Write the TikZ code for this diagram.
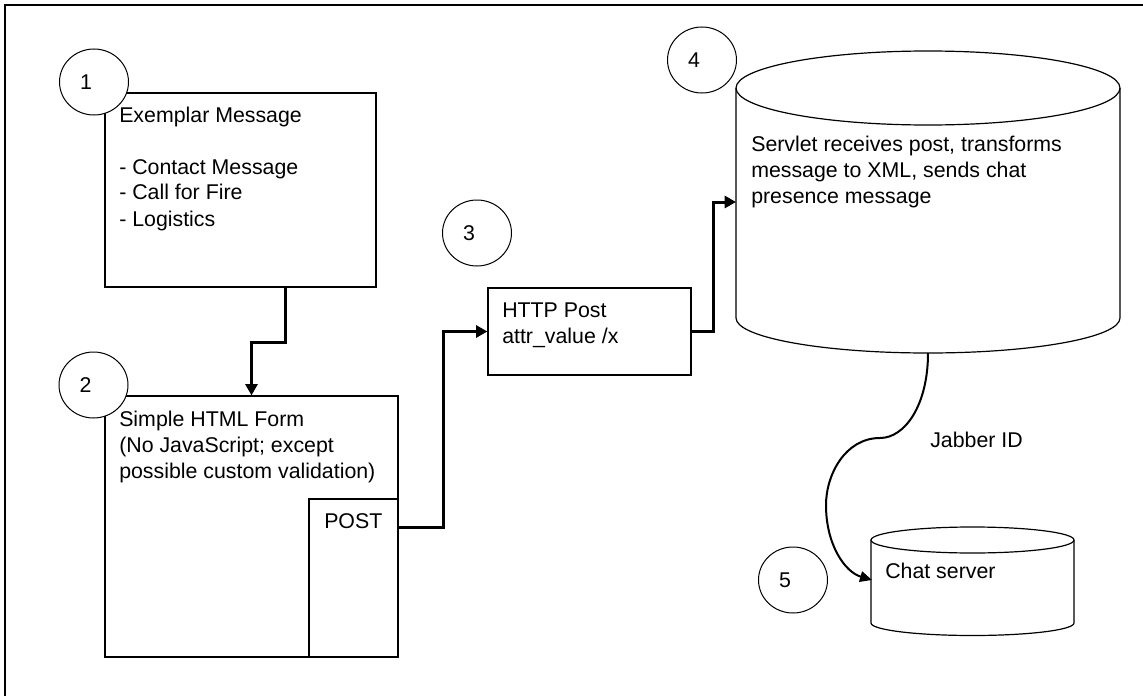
\documentclass[tikz,border=0pt]{standalone}
\usepackage{fontspec}
\setmainfont{Liberation Sans}
\usetikzlibrary{arrows.meta,shapes.geometric}
\newcommand{\txtlines}[1]{\begin{tabular}[t]{@{}l@{}}#1\end{tabular}}
\begin{document}
\begin{tikzpicture}[x=0.75pt,y=-0.75pt,
  every node/.style={font=\fontsize{16}{19.5}\selectfont},
  boxnode/.style={draw,line width=0.9pt,inner sep=0pt},
  txt/.style={inner sep=0pt,anchor=base west},
  numc/.style={ellipse,draw,line width=0.75pt,fill=white,minimum width=51.75pt,minimum height=49.5pt,inner sep=0pt},
  conn/.style={line width=2.25pt,-{Triangle[length=8.5pt,width=9pt]}},
  curvconn/.style={line width=1.5pt,-{Triangle[length=9pt,width=8pt]}},
  cyl/.style={line width=0.9pt}]
\useasboundingbox (0,0) rectangle (1143,696);
% frame
\draw[line width=1.1pt] (5,696) -- (5,5) -- (1143,5);

% box 1
\node[boxnode,minimum width=203.25pt,minimum height=145.5pt] (b1) at (240.5,190) {};
\node[txt] (b1t) at (119,122) {\txtlines{Exemplar Message\\ \\- Contact Message\\- Call for Fire\\- Logistics}};

% box 2
\node[boxnode,minimum width=219.75pt,minimum height=195.75pt] (b2) at (251.5,526.5) {};
\node[txt] (b2t) at (119,426) {\txtlines{Simple HTML Form\\(No JavaScript; except\\possible custom validation)}};
\node[boxnode,minimum width=66.75pt,minimum height=118.5pt] (post) at (353.5,578) {};
\node[txt] (postt) at (324,528) {POST};

% HTTP box
\node[boxnode,minimum width=152.25pt,minimum height=65.25pt] (http) at (589.5,331.5) {};
\node[txt] (httpt) at (502,317) {\txtlines{HTTP Post\\attr\_value /x}};

% servlet cylinder
\draw[cyl] (928,88) ellipse [x radius=144pt, y radius=27.75pt];
\draw[cyl] (736,88) -- (736,318) arc[start angle=180, end angle=360, x radius=144pt, y radius=26.25pt] -- (1120,88);
\coordinate (s4w) at (736,202);
\coordinate (s4b) at (928,353);
\node[txt] (srvt) at (751,151) {\txtlines{Servlet receives post, transforms\\message to XML, sends chat\\presence message}};

% chat server cylinder
\draw[cyl] (972.5,540) ellipse [x radius=76.125pt, y radius=9.75pt];
\draw[cyl] (871,540) -- (871,623) arc[start angle=180, end angle=360, x radius=76.125pt, y radius=9.375pt] -- (1074,540);
\coordinate (c5w) at (872,580);
\node[txt] (chatt) at (885,578) {Chat server};

% connectors
\draw[conn] ([xshift=33.4pt]b1.south) -- ++(0,55) -| (b2.north);
\draw[conn] ([yshift=38.25pt]post.east) -- ++(45,0) |- (http.west);
\draw[conn] (http.east) -- ++(22,0) |- (s4w);
\draw[curvconn] (s4b) .. controls (928,405) and (905,438) .. (880,438)
  .. controls (845,438) and (826,475) .. (826,505)
  .. controls (826,545) and (845,572) .. (c5w);
\node[txt] (jab) at (930,447) {Jabber ID};

% number circles
\node[numc,label={[xshift=-6pt]center:1}] (n1) at (94,82) {};
\node[numc,label={[xshift=-6pt]center:2}] (n2) at (93.5,385) {};
\node[numc,label={[xshift=-6pt]center:3}] (n3) at (477,233) {};
\node[numc,label={[xshift=-6pt]center:4}] (n4) at (702,60) {};
\node[numc,label={[xshift=-6pt]center:5}] (n5) at (793,580) {};
\end{tikzpicture}
\end{document}
